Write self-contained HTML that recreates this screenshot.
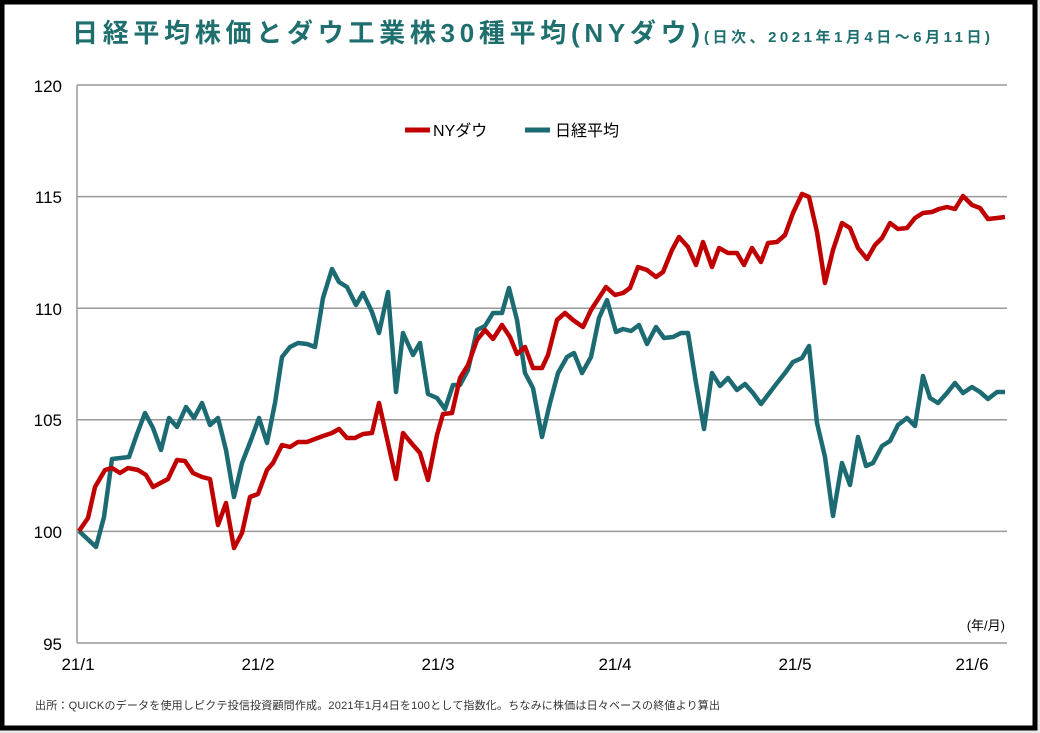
<!DOCTYPE html>
<html><head><meta charset="utf-8"><style>
html,body{margin:0;padding:0;background:#e8e8e8;}
svg{display:block;}
text{font-family:"Liberation Sans","Noto Sans CJK JP",sans-serif;}
</style></head><body>
<svg width="1040" height="733" viewBox="0 0 1040 733" xmlns="http://www.w3.org/2000/svg">
<rect x="0" y="0" width="1040" height="733" fill="#e8e8e8"/>
<rect x="2" y="2" width="1033" height="726" fill="#fff" stroke="#000" stroke-width="5"/>
<text x="72" y="42" font-size="26" font-weight="bold" fill="#1f6f6e" textLength="628" lengthAdjust="spacing">日経平均株価とダウ工業株30種平均(NYダウ)</text>
<text x="704" y="42" font-size="15" font-weight="bold" fill="#1f6f6e" textLength="286" lengthAdjust="spacing">(日次、2021年1月4日～6月11日)</text>
<g stroke="#999" stroke-width="1.5">
<line x1="77" y1="85" x2="1007" y2="85"/>
<line x1="77" y1="196.6" x2="1007" y2="196.6"/>
<line x1="77" y1="308.2" x2="1007" y2="308.2"/>
<line x1="77" y1="419.8" x2="1007" y2="419.8"/>
<line x1="77" y1="531.4" x2="1007" y2="531.4"/>
<line x1="77" y1="643" x2="1007" y2="643"/>
<line x1="77" y1="85" x2="77" y2="643"/>
</g>
<g font-size="17" fill="#000" text-anchor="end">
<text x="62" y="92">120</text><text x="62" y="203">115</text><text x="62" y="315">110</text>
<text x="62" y="426">105</text><text x="62" y="538">100</text><text x="62" y="650">95</text>
</g>
<g font-size="17" fill="#000" text-anchor="middle">
<text x="78" y="670">21/1</text><text x="258" y="670">21/2</text><text x="438" y="670">21/3</text>
<text x="615" y="670">21/4</text><text x="795" y="670">21/5</text><text x="972" y="670">21/6</text>
</g>
<text x="1005" y="630" font-size="13" text-anchor="end" fill="#000">(年/月)</text>
<line x1="405" y1="130" x2="430" y2="130" stroke="#c00000" stroke-width="5"/>
<text x="433" y="136" font-size="16">NYダウ</text>
<line x1="525" y1="130" x2="550" y2="130" stroke="#1c6b72" stroke-width="5"/>
<text x="555" y="136" font-size="16">日経平均</text>
<polyline fill="none" stroke="#1c6b72" stroke-width="4.5" stroke-linejoin="round" points="79,531 96,547 104,517 112,459 129,457 137,434 145,413 153,428 161,450 169,418 177,427 186,407 194,418 202,403 210,425 218,418 226,450 234,497 242,463 251,440 259,418 267,443 275,403 282,357 290,347 298,343 307,344 315,347 323,298 332,269 339,282 347,287 356,305 363,293 372,312 379,333 388,292 396,392 403,333 413,355 420,343 428,394 437,398 445,409 453,385 460,385 468,370 477,330 485,326 493,313 502,313 509,288 517,320 525,373 533,388 542,437 550,403 558,373 567,357 574,353 582,373 591,357 599,318 607,300 616,332 623,329 631,331 639,325 647,344 656,327 664,338 673,337 681,333 688,333 696,383 704,429 712,373 720,386 728,378 737,390 745,384 753,393 761,404 777,383 785,373 793,362 802,358 809,346 817,423 825,457 833,516 842,463 850,485 858,437 866,466 873,463 882,446 890,441 898,425 907,418 915,426 923,376 930,398 938,403 947,393 955,383 963,393 972,387 980,392 988,399 997,392 1005,392"/>
<polyline fill="none" stroke="#c00000" stroke-width="4.5" stroke-linejoin="round" points="79,531 88,518 95,487 105,470 112,468 120,473 128,468 138,470 146,475 153,487 168,479 177,460 185,461 193,473 202,477 210,479 218,525 226,503 234,548 242,533 250,497 258,494 267,470 273,463 282,445 290,447 298,442 307,442 315,439 323,436 332,433 339,429 347,438 355,438 363,434 372,433 379,403 388,443 396,479 403,433 413,445 420,453 428,480 437,435 443,414 452,413 460,378 468,365 477,340 485,330 493,339 502,325 510,337 517,354 525,347 533,368 542,368 548,355 557,320 565,313 573,320 583,327 591,310 606,287 615,295 623,293 630,288 638,267 647,270 656,277 663,272 672,250 679,237 688,247 696,265 703,242 712,267 719,248 728,253 737,253 744,265 752,248 761,262 768,243 777,242 785,235 793,213 802,194 809,197 817,232 825,283 833,250 842,223 850,228 858,248 867,259 875,245 882,238 890,223 898,229 907,228 915,218 923,213 932,212 939,209 947,207 955,209 963,196 972,205 980,208 988,219 997,218 1005,217"/>
<text x="35" y="709" font-size="11" fill="#333" textLength="685" lengthAdjust="spacing">出所：QUICKのデータを使用しピクテ投信投資顧問作成。2021年1月4日を100として指数化。ちなみに株価は日々ベースの終値より算出</text>
</svg>
</body></html>
